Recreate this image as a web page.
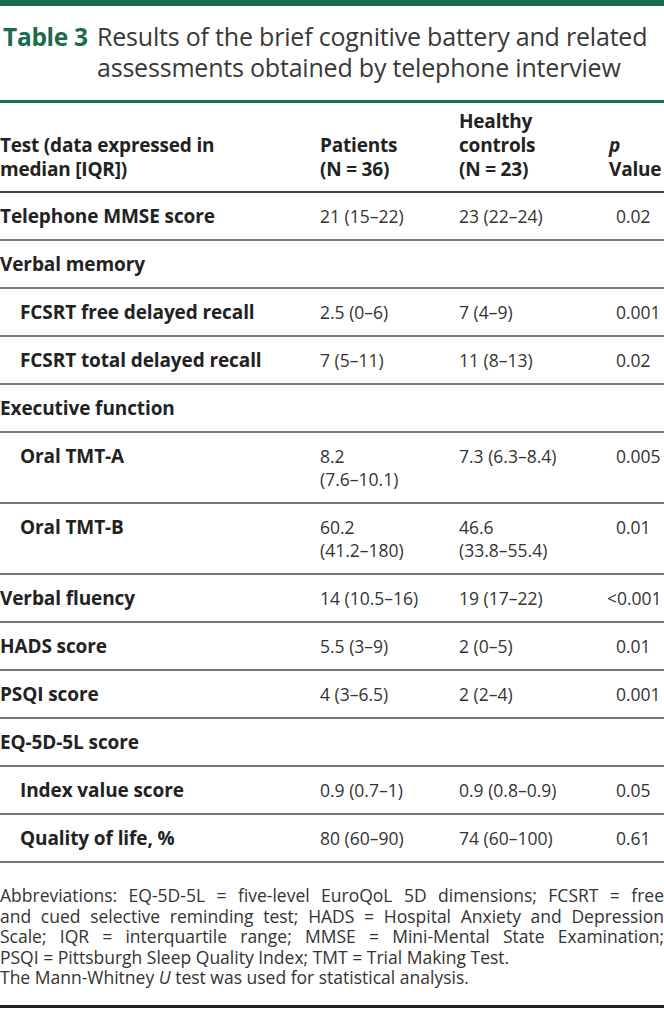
<!DOCTYPE html>
<html>
<head>
<meta charset="utf-8">
<script src="https://cdn.jsdelivr.net/npm/chart.js@4"></script>
<style>
  html, body { margin: 0; padding: 0; background: #fff; }
  body { width: 664px; height: 1012px; overflow: hidden; position: relative; font-family: "Open Sans", sans-serif; color: #222; }
  .topbar { position: absolute; left: 0; top: 0; width: 664px; height: 6px; background: #1c6b4c; }
  .title { position: absolute; left: 3px; top: 21px; width: 565px; padding-left: 94px; text-indent: -94px; font-size: 25px; line-height: 30px; color: #383838; font-weight: 400; letter-spacing: -0.2px; }
  .title b { color: #1c6b4c; font-weight: 700; font-size: 24.5px; display: inline-block; width: 94px; text-indent: 0; letter-spacing: -0.3px; }
  .rule-green { position: absolute; left: 0; top: 100px; width: 664px; height: 3px; background: #1c6b4c; }
  table { position: absolute; left: 0; top: 103px; width: 664px; border-collapse: collapse; font-size: 17.5px; }
  td, th { padding: 0; vertical-align: top; text-align: left; }
  thead th { font-size: 19px; font-weight: 700; line-height: 24px; padding-top: 6px; padding-bottom: 10px; vertical-align: bottom; border-bottom: 2px solid #444; color: #222; letter-spacing: -0.2px; }
  tbody td { line-height: 23px; padding-top: 12px; padding-bottom: 11px; border-bottom: 2px solid #777; color: #333; }
  td.lab { font-size: 19px; font-weight: 700; color: #222; letter-spacing: -0.1px; }
  td.lab.sub { padding-left: 20px; }
  .c1 { width: 320px; } .c2 { width: 139px; } .c3 { width: 150px; }
  .neg { margin-left: -9px; }
  .foot { position: absolute; left: 0; top: 885px; width: 664px; font-size: 17.5px; line-height: 20.5px; color: #333; }
  .foot .j { text-align: justify; text-align-last: justify; }
  .rule-bottom { position: absolute; left: 0; top: 1005px; width: 664px; height: 3px; background: #222; }
</style>
</head>
<body>
<div class="topbar"></div>
<div class="title"><b>Table 3</b>Results of the brief cognitive battery and related assessments obtained by telephone interview</div>
<div class="rule-green"></div>
<table id="tbl">
  <thead>
    <tr>
      <th class="c1">Test (data expressed in<br>median [IQR])</th>
      <th class="c2">Patients<br>(N = 36)</th>
      <th class="c3">Healthy<br>controls<br>(N = 23)</th>
      <th><i>p</i><br>Value</th>
    </tr>
  </thead>
  <tbody></tbody>
</table>
<div class="foot" id="foot"></div>
<div class="rule-bottom"></div>
<script>
const tests = [
  'Telephone MMSE score', 'Verbal memory', 'FCSRT free delayed recall', 'FCSRT total delayed recall',
  'Executive function', 'Oral TMT-A', 'Oral TMT-B', 'Verbal fluency', 'HADS score', 'PSQI score',
  'EQ-5D-5L score', 'Index value score', 'Quality of life, %'
];
const subRows = [false, false, true, true, false, true, true, false, false, false, false, true, true];
const patients = [
  '21 (15–22)', '', '2.5 (0–6)', '7 (5–11)', '', '8.2<br>(7.6–10.1)', '60.2<br>(41.2–180)',
  '14 (10.5–16)', '5.5 (3–9)', '4 (3–6.5)', '', '0.9 (0.7–1)', '80 (60–90)'
];
const controls = [
  '23 (22–24)', '', '7 (4–9)', '11 (8–13)', '', '7.3 (6.3–8.4)', '46.6<br>(33.8–55.4)',
  '19 (17–22)', '2 (0–5)', '2 (2–4)', '', '0.9 (0.8–0.9)', '74 (60–100)'
];
const pValues = ['0.02', '', '0.001', '0.02', '', '0.005', '0.01', '<0.001', '0.01', '0.001', '', '0.05', '0.61'];

// footnote lines as they wrap in the original; the first three are justified
const footLines = [
  'Abbreviations: EQ-5D-5L = five-level EuroQoL 5D dimensions; FCSRT = free',
  'and cued selective reminding test; HADS = Hospital Anxiety and Depression',
  'Scale; IQR = interquartile range; MMSE = Mini-Mental State Examination;',
  'PSQI = Pittsburgh Sleep Quality Index; TMT = Trial Making Test.',
  'The Mann-Whitney <i>U</i> test was used for statistical analysis.'
];

document.querySelector('#tbl tbody').innerHTML = tests
  .map((t, i) => {
    const p = pValues[i].startsWith('<')
      ? `<span class="neg">&lt;${pValues[i].slice(1)}</span>`
      : pValues[i];
    return `<tr>
      <td class="lab${subRows[i] ? ' sub' : ''}">${t}</td>
      <td>${patients[i]}</td>
      <td>${controls[i]}</td>
      <td style="padding-left:7px">${p}</td>
    </tr>`;
  })
  .join('');

document.querySelector('#foot').innerHTML = footLines
  .map((l, i) => `<div class="${i < 3 ? 'j' : ''}">${l}</div>`)
  .join('');
</script>
</body>
</html>
